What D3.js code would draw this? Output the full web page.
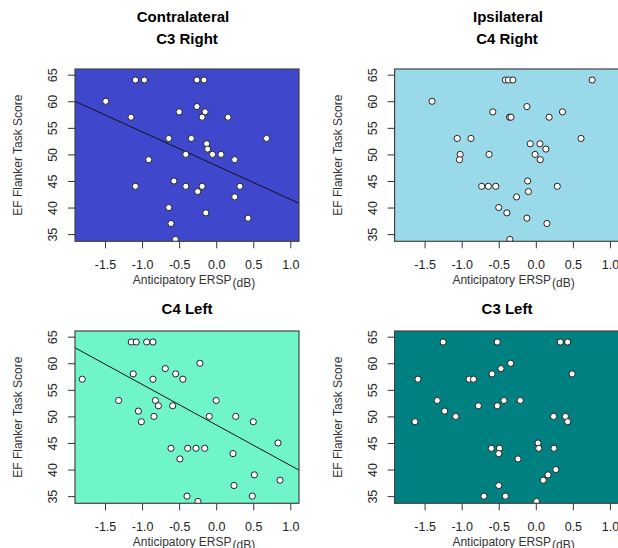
<!DOCTYPE html>
<html>
<head>
<meta charset="utf-8"/>
<title>EF Flanker vs ERSP</title>
<script src="https://cdn.jsdelivr.net/npm/d3@7"></script>
<style>
  body { margin: 0; background: #fff; }
  svg text { font-family: "Liberation Sans", Arial, sans-serif; }
</style>
</head>
<body>
<svg id="chart" width="618" height="548"></svg>
<script>

// tick values shared by all four panels
var xTicks = [-1.5, -1.0, -0.5, 0.0, 0.5, 1.0];
var yTicks = [35, 40, 45, 50, 55, 60, 65];

// C3 Right (contralateral)
var c3RightX = [-1.49, -1.09, -0.97, -1.15, -0.91, -1.09, -0.26, -0.165, -0.26, -0.50, -0.15, -0.19, 0.16,
  -0.64, -0.336, 0.68, -0.128, -0.115, -0.41, -0.05, 0.065, 0.25, -0.57, -0.41, -0.19, -0.25, 0.32, 0.25,
  -0.64, -0.14, -0.61, 0.43, -0.55];
var c3RightY = [60, 64, 64, 57, 49, 44, 64, 64, 59, 58, 58, 57, 57,
  53, 53, 53, 52, 51, 50, 50, 50, 49, 45, 44, 44, 43, 44, 42,
  40, 39, 37, 38, 34];

// C4 Right (ipsilateral)
var c4RightX = [-0.41, -0.37, -0.31, 0.76, -1.40, -0.12, -0.58, 0.36, -0.355, -0.335, 0.18, -1.06, -0.875,
  0.61, -0.075, 0.055, 0.136, -1.02, -0.63, -0.01, -1.03, 0.06, -0.11, -0.73, -0.64, -0.54, 0.29, -0.10,
  -0.26, -0.50, -0.39, -0.12, 0.15, -0.35];
var c4RightY = [64, 64, 64, 64, 60, 59, 58, 58, 57, 57, 57, 53, 53,
  53, 52, 52, 51, 50, 50, 50, 49, 49, 45, 44, 44, 44, 44, 43,
  42, 40, 39, 38, 37, 34];

// C4 Left (contralateral)
var c4LeftX = [-1.807, -1.316, -1.146, -1.078, -0.938, -0.853, -1.12, -0.853, -1.05, -1.01, -0.84, -0.82,
  -0.78, -0.687, -0.547, -0.45, -0.587, -0.22, 0.0, -0.093, 0.263, 0.50, -0.61, -0.385, -0.273, -0.155,
  -0.49, 0.227, 0.834, 0.515, 0.861, 0.24, -0.394, 0.487, -0.246];
var c4LeftY = [57, 53, 64, 64, 64, 64, 58, 57, 51, 49, 50, 53,
  52, 59, 58, 57, 52, 60, 53, 50, 50, 49, 44, 44, 44, 44,
  42, 43, 45, 39, 38, 37, 35, 35, 34];

// C3 Left (ipsilateral)
var c3LeftX = [-1.25, -0.52, 0.33, 0.43, -0.34, -0.47, -0.59, 0.49, -1.59, -0.90, -0.84, -1.33, -0.43,
  -0.21, -0.775, -0.52, -1.23, -1.08, 0.24, 0.40, -1.63, 0.43, 0.03, -0.60, -0.49, 0.04, 0.245, -0.50,
  -0.24, 0.27, 0.165, 0.10, -0.50, -0.70, -0.41, 0.01];
var c3LeftY = [64, 64, 64, 64, 60, 59, 58, 58, 57, 57, 57, 53, 53,
  53, 52, 52, 51, 50, 50, 50, 49, 49, 45, 44, 44, 44, 44, 43,
  42, 40, 39, 38, 37, 35, 35, 34];

// fitted lines (intercept, slope); null where no line is drawn
var fitIntercept = [47.9, null, 48.4, null];
var fitSlope = [-6.35, null, -7.62, null];

var panels = [
  {titles: ["Contralateral", "C3 Right"], titleX: [183, 187], x: c3RightX, y: c3RightY, fill: "#3f48cc", left: 75, top: 69},
  {titles: ["Ipsilateral", "C4 Right"], titleX: [508, 507], x: c4RightX, y: c4RightY, fill: "#99d9ea", left: 394.6, top: 69},
  {titles: ["C4 Left"], titleX: [187], x: c4LeftX, y: c4LeftY, fill: "#6ff5c9", left: 75, top: 331},
  {titles: ["C3 Left"], titleX: [507], x: c3LeftX, y: c3LeftY, fill: "#008080", left: 394.6, top: 331}
];

var W = 224, H = 172.3;
var svg = d3.select("#chart");

panels.forEach(function (p, i) {
  var x = d3.scaleLinear().domain([-1.905, 1.117]).range([p.left, p.left + W]);
  var y = d3.scaleLinear().domain([33.65, 66.07]).range([p.top + H, p.top]);

  // titles
  if (p.titles.length == 2) {
    svg.append("text").attr("x", p.titleX[0]).attr("y", 21.5).attr("text-anchor", "middle")
      .style("font-size", "15px").style("font-weight", "bold").text(p.titles[0]);
    svg.append("text").attr("x", p.titleX[1]).attr("y", 44).attr("text-anchor", "middle")
      .style("font-size", "15px").style("font-weight", "bold").text(p.titles[1]);
  } else {
    svg.append("text").attr("x", p.titleX[0]).attr("y", 314).attr("text-anchor", "middle")
      .style("font-size", "15px").style("font-weight", "bold").text(p.titles[0]);
  }

  // background
  svg.append("rect").attr("x", p.left).attr("y", p.top).attr("width", W).attr("height", H)
    .attr("fill", p.fill);

  svg.append("clipPath").attr("id", "clip" + i)
    .append("rect").attr("x", p.left).attr("y", p.top).attr("width", W).attr("height", H);

  var plot = svg.append("g").attr("clip-path", "url(#clip" + i + ")");

  if (fitIntercept[i] != null) {
    var x0 = x.domain()[0], x1 = x.domain()[1];
    plot.append("line")
      .attr("x1", x(x0)).attr("y1", y(fitIntercept[i] + fitSlope[i] * x0))
      .attr("x2", x(x1)).attr("y2", y(fitIntercept[i] + fitSlope[i] * x1))
      .attr("stroke", "#111").attr("stroke-width", 1);
  }

  plot.selectAll("circle").data(p.x).enter().append("circle")
    .attr("cx", function (d) { return x(d); })
    .attr("cy", function (d, j) { return y(p.y[j]); })
    .attr("r", 3.1)
    .attr("fill", "#fff").attr("stroke", "#222").attr("stroke-width", 1);

  // border
  svg.append("rect").attr("x", p.left).attr("y", p.top).attr("width", W).attr("height", H)
    .attr("fill", "none").attr("stroke", "#444").attr("stroke-width", 1.2);

  // x axis
  var gx = svg.append("g").attr("transform", "translate(0," + (p.top + H) + ")")
    .call(d3.axisBottom(x).tickValues(xTicks).tickSize(7).tickPadding(12)
      .tickFormat(function (d) { return d.toFixed(1); }));
  gx.select(".domain").remove();
  gx.selectAll("line").attr("stroke", "#333");
  gx.selectAll("text").style("font-size", "12.5px").attr("fill", "#222").style("font-family", "Liberation Sans, Arial");

  // y axis
  var gy = svg.append("g").attr("transform", "translate(" + p.left + ",0)")
    .call(d3.axisLeft(y).tickValues(yTicks).tickSize(7));
  gy.select(".domain").remove();
  gy.selectAll("line").attr("stroke", "#333");
  gy.selectAll("text")
    .attr("x", null).attr("dy", null)
    .attr("text-anchor", "middle")
    .attr("transform", "translate(-18,0) rotate(-90)")
    .style("font-size", "12.5px").attr("fill", "#222").style("font-family", "Liberation Sans, Arial");

  // axis titles
  svg.append("text")
    .attr("transform", "translate(" + (p.left - 53) + "," + (p.top + H / 2) + ") rotate(-90)")
    .attr("text-anchor", "middle").style("font-size", "12px").attr("fill", "#333")
    .text("EF Flanker Task Score");

  var xt = svg.append("text").attr("x", p.left + 119).attr("y", p.top + H + 43)
    .attr("text-anchor", "middle").style("font-size", "12px").attr("fill", "#333");
  xt.append("tspan").text("Anticipatory ERSP");
  xt.append("tspan").attr("dy", 3).attr("dx", 1).style("font-size", "12px").text("(dB)");
});

</script>
</body>
</html>
